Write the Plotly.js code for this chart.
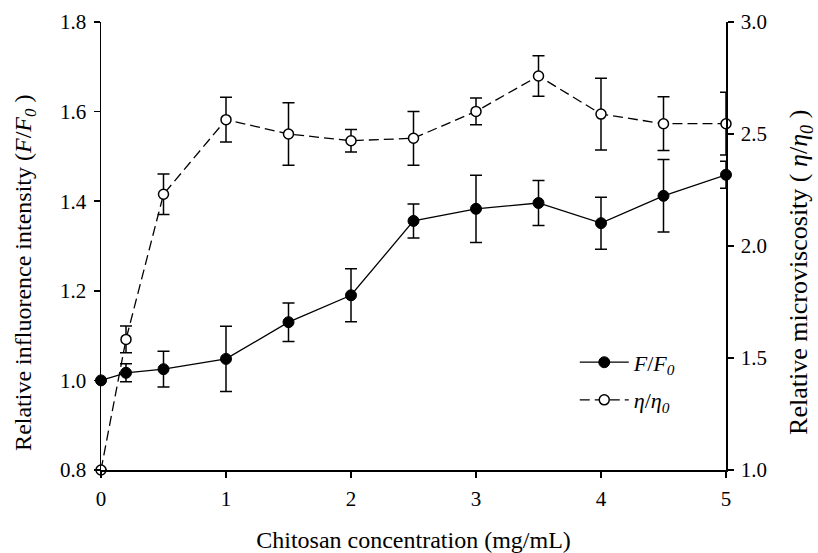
<!DOCTYPE html>
<html>
<head>
<meta charset="utf-8">
<script src="https://cdn.plot.ly/plotly-3.0.1.min.js"></script>
<style>html,body{margin:0;padding:0;background:#fff;}#chart{width:818px;height:553px;}</style>
</head>
<body>
<div id="chart"></div>
<script>
// Chitosan concentration (mg/mL)
var conc = [0, 0.2, 0.5, 1, 1.5, 2, 2.5, 3, 3.5, 4, 4.5, 5];
// Relative influorence intensity F/F0 (left axis)
var fRatio = [1.00, 1.017, 1.025, 1.048, 1.13, 1.19, 1.356, 1.383, 1.396, 1.351, 1.412, 1.459];
var fErr   = [0, 0.02, 0.04, 0.073, 0.043, 0.059, 0.038, 0.075, 0.05, 0.058, 0.081, 0.03];
// Relative microviscosity eta/eta0 (right axis)
var etaRatio = [1.0, 1.583, 2.231, 2.564, 2.50, 2.47, 2.481, 2.601, 2.759, 2.589, 2.546, 2.546];
var etaErr   = [0, 0.06, 0.09, 0.10, 0.14, 0.05, 0.12, 0.06, 0.09, 0.16, 0.12, 0.14];
// Axis ticks
var xTicks = [0, 1, 2, 3, 4, 5];
var yLeftTicks = [0.8, 1.0, 1.2, 1.4, 1.6, 1.8];
var yRightTicks = [1.0, 1.5, 2.0, 2.5, 3.0];
// Titles
var xTitle = "Chitosan concentration (mg/mL)";
var yLeftTitle = "Relative influorence intensity (<i>F</i>/<i>F</i><sub><i>0</i></sub> )";
var yRightTitle = "Relative microviscosity ( <i>η</i>/<i>η</i><sub><i>0</i></sub> )";

var FONT = "'Liberation Serif', 'Times New Roman', Times, serif";

var traces = [
  {
    x: conc, y: fRatio, name: "<i>F</i>/<i>F</i><sub><i>0</i></sub>",
    type: "scatter", mode: "lines+markers", yaxis: "y", cliponaxis: false,
    line: {color: "#000", width: 1.3},
    marker: {symbol: "circle", size: 11, color: "#000", line: {color: "#000", width: 1}},
    error_y: {type: "data", array: fErr, visible: true, color: "#000", thickness: 1.5, width: 6},
    legendgroup: "a"
  },
  {
    x: conc, y: etaRatio, name: "<i>η</i>/<i>η</i><sub><i>0</i></sub>",
    type: "scatter", mode: "lines+markers", yaxis: "y2", cliponaxis: false,
    line: {color: "#000", width: 1.3, dash: "10px,5px"},
    marker: {symbol: "circle", size: 10, color: "#fff", line: {color: "#000", width: 1.5}},
    error_y: {type: "data", array: etaErr, visible: true, color: "#000", thickness: 1.5, width: 6},
    legendgroup: "b"
  }
];

var layout = {
  width: 818, height: 553,
  margin: {l: 101, r: 92, t: 22, b: 83},
  paper_bgcolor: "#fff", plot_bgcolor: "#fff",
  font: {family: FONT, size: 21, color: "#000"},
  showlegend: true,
  legend: {
    x: 0.758, y: 0.287, xanchor: "left", yanchor: "top",
    bgcolor: "rgba(0,0,0,0)", font: {family: FONT, size: 22, color: "#000"},
    tracegroupgap: 6, itemwidth: 49
  },
  xaxis: {
    range: [0, 5], tickvals: xTicks, ticktext: xTicks.map(String),
    showgrid: false, zeroline: false, showline: true, linecolor: "#000", linewidth: 1.5,
    ticks: "outside", ticklen: 6, tickwidth: 1.5, tickcolor: "#000",
    tickfont: {family: FONT, size: 21}, ticklabelstandoff: 3,
    title: {text: xTitle, font: {family: FONT, size: 24}, standoff: 24}
  },
  yaxis: {
    range: [0.8, 1.8], tickvals: yLeftTicks, ticktext: yLeftTicks.map(function(v){return v.toFixed(1);}),
    showgrid: false, zeroline: false, showline: true, linecolor: "#000", linewidth: 1.5,
    ticks: "outside", ticklen: 6, tickwidth: 1.5, tickcolor: "#000",
    tickfont: {family: FONT, size: 21}, ticklabelstandoff: 3
  },
  yaxis2: {
    range: [1.0, 3.0], tickvals: yRightTicks, ticktext: yRightTicks.map(function(v){return v.toFixed(1);}),
    overlaying: "y", side: "right",
    showgrid: false, zeroline: false, showline: true, linecolor: "#000", linewidth: 1.5,
    ticks: "outside", ticklen: 6, tickwidth: 1.5, tickcolor: "#000",
    tickfont: {family: FONT, size: 21}, ticklabelstandoff: 3
  },
  annotations: [
    {xref: "paper", yref: "paper", x: -0.1216, y: 0.44, xanchor: "center", yanchor: "middle",
     text: yLeftTitle, textangle: -90, showarrow: false, font: {family: FONT, size: 24, color: "#000"}},
    {xref: "paper", yref: "paper", x: 1.1184, y: 0.44, xanchor: "center", yanchor: "middle",
     text: yRightTitle, textangle: -90, showarrow: false, font: {family: FONT, size: 26, color: "#000"}}
  ]
};

Plotly.newPlot("chart", traces, layout, {displayModeBar: false, staticPlot: true});
</script>
</body>
</html>
